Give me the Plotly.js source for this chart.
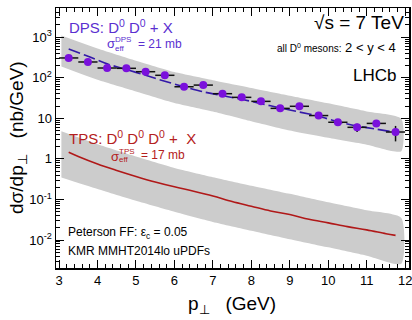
<!DOCTYPE html>
<html>
<head>
<meta charset="utf-8">
<script src="https://cdn.plot.ly/plotly-3.0.1.min.js"></script>
<style>html,body{margin:0;padding:0;background:#fff}#chart{width:412px;height:320px}</style>
</head>
<body>
<div id="chart"></div>
<script>
// ---- data ----
var ptBins = [3.25,3.75,4.25,4.75,5.25,5.75,6.25,6.75,7.25,7.75,8.25,8.75,9.25,9.75,10.25,10.75,11.25,11.75];
var lhcbValues = [308,245,174,171,141,115,60,66,40.5,32.9,26.2,17.6,19.8,11.7,8.0,6.0,7.5,4.6];
var lhcbErrors = [15,12,9,9,7,6,3,3.5,2.2,2,1.6,1.3,1.6,1.6,1.4,1.4,1.3,1.9];
var binHalfWidth = [0.25,0.25,0.25,0.25,0.25,0.25,0.25,0.25,0.25,0.25,0.25,0.25,0.25,0.25,0.25,0.25,0.25,0.25];

var dpsCentral = [510,340,220,160,115,82,60,45,36,29.5,23,18,14.3,11.3,8.2,6.5,5.4,4.5];
var tpsCentral = [1.46,1.15,0.75,0.52,0.37,0.27,0.205,0.16,0.122,0.089,0.068,0.052,0.0425,0.0324,0.0265,0.0214,0.0178,0.0143,0.013];
var tpsX = [3.25,3.5,4.0,4.5,5.0,5.5,6.0,6.5,7.0,7.5,8.0,8.5,9.0,9.5,10.0,10.5,11.0,11.5,11.75];

var bandX = [3.06,4,5,6,7,8,9,10,11,11.9];
var dpsUpper = [1100,525,263,138,87,56,36,23.4,14.8,9.8];
var dpsLower = [190,89,46,24,14.8,8.5,5.0,3.3,2.24,1.55];
var tpsUpper = [4.8,2.3,1.15,0.60,0.355,0.219,0.138,0.085,0.054,0.035];
var tpsLower = [0.35,0.182,0.093,0.050,0.028,0.017,0.0105,0.0066,0.0041,0.0026];

var yTickVals = [0.01,0.1,1,10,100,1000];
var yTickText = ['10<sup>-2</sup>','10<sup>-1</sup>','1','10','10<sup>2</sup>','10<sup>3</sup>'];

// ---- helpers ----
function band(x, up, lo, name){
  return {x: x.concat(x.slice().reverse()), y: up.concat(lo.slice().reverse()),
    type:'scatter', mode:'lines', fill:'toself', fillcolor:'#cccccc',
    line:{width:0,color:'#cccccc', shape:'spline', smoothing:0.6}, hoverinfo:'skip', name:name};
}
var minorY = [];
for (var e=-3; e<=3; e++){ for (var d=2; d<=9; d++){ minorY.push(d*Math.pow(10,e)); } }

var L=56, R=409, T=8, B=268;
function px(x){ return (x-L)/(R-L); }
function py(y){ return (B-y)/(B-T); }
var FONT = 'Liberation Sans, Arial, sans-serif';
function ann(text, x, y, size, color, xanchor, extra){
  var a = {text:text, xref:'paper', yref:'paper', x:px(x), y:py(y), showarrow:false,
    xanchor:xanchor||'left', yanchor:'middle', font:{family:FONT, size:size, color:color||'#000'}};
  if (extra){ for (var k in extra) a[k]=extra[k]; }
  return a;
}

var DPS_TXT = '#5a2fd0', TPS_TXT = '#b42020';

var traces = [
  band(bandX, dpsUpper, dpsLower, 'DPS band'),
  band(bandX, tpsUpper, tpsLower, 'TPS band'),
  {x: ptBins, y: dpsCentral, type:'scatter', mode:'lines', line:{color:'#3318a8', width:1.6, dash:'12px,4px', shape:'spline', smoothing:0.8}, name:'DPS'},
  {x: tpsX, y: tpsCentral, type:'scatter', mode:'lines', line:{color:'#b01818', width:1.6, shape:'spline', smoothing:1}, name:'TPS'},
  {x: ptBins, y: lhcbValues, type:'scatter', mode:'markers',
    marker:{color:'#7a10dc', size:8},
    error_x:{type:'data', array: binHalfWidth, color:'#111', thickness:1.5, width:0},
    error_y:{type:'data', array: lhcbErrors, color:'#111', thickness:1.5, width:0},
    name:'LHCb'}
];

var NB = '\u00A0';
var layout = {
  width:412, height:320,
  margin:{l:L, r:412-R, t:T, b:320-B},
  paper_bgcolor:'#fff', plot_bgcolor:'#fff',
  showlegend:false,
  xaxis:{range:[2.92,12.1], tickmode:'linear', tick0:3, dtick:1,
    ticks:'inside', ticklen:8, tickwidth:1, tickcolor:'#000',
    showline:true, linewidth:1.5, linecolor:'#000', mirror:'allticks',
    showgrid:false, zeroline:false, ticklabeloverflow:'allow',
    minor:{dtick:0.2, tick0:3, ticks:'inside', ticklen:4, tickwidth:1, tickcolor:'#000', showgrid:false},
    tickfont:{family:FONT, size:13, color:'#000'}},
  yaxis:{type:'log', range:[-2.69,3.72], tickmode:'array', tickvals:yTickVals, ticktext:yTickText,
    ticks:'inside', ticklen:8, tickwidth:1, tickcolor:'#000',
    showline:true, linewidth:1.5, linecolor:'#000', mirror:'allticks',
    showgrid:false, zeroline:false,
    minor:{tickmode:'array', tickvals:minorY, ticks:'inside', ticklen:4, tickwidth:1, tickcolor:'#000', showgrid:false},
    tickfont:{family:FONT, size:13, color:'#000'}},
  annotations:[
    ann('d\u03C3/dp<sub>\u22A5</sub>'+NB+NB+NB+'(nb/GeV)', 18, 138, 19, '#000', 'center', {textangle:-90}),
    ann('p<sub>\u22A5</sub>'+NB+NB+NB+'(GeV)', 232, 305, 19, '#000', 'center'),
    ann('DPS: D<sup>0</sup> D<sup>0</sup> + X', 67, 27, 15, DPS_TXT),
    ann('\u03C3', 105, 44, 13, DPS_TXT),
    ann('DPS', 113, 39, 8, DPS_TXT),
    ann('eff', 113, 48, 8, DPS_TXT),
    ann('= 21 mb', 136, 44, 12, DPS_TXT),
    ann('\u221As = 7 TeV', 406, 22, 19, '#000', 'right'),
    ann('<span style="font-size:10px">all D<sup>0</sup> mesons:</span> 2 &lt; y &lt; 4', 398, 47, 13, '#000', 'right'),
    ann('LHCb', 398, 75, 17, '#000', 'right'),
    ann('TPS: D<sup>0</sup> D<sup>0</sup> D<sup>0</sup> +'+NB+' X', 67, 137, 15, TPS_TXT),
    ann('\u03C3', 109, 156, 13, TPS_TXT),
    ann('TPS', 117, 151, 8, TPS_TXT),
    ann('eff', 117, 160, 8, TPS_TXT),
    ann('= 17 mb', 139, 155, 12, TPS_TXT),
    ann('Peterson FF: \u03B5<sub>c</sub> = 0.05', 66, 233, 12, '#000'),
    ann('KMR MMHT2014lo uPDFs', 66, 251, 12, '#000')
  ]
};
Plotly.newPlot('chart', traces, layout, {staticPlot:true, displayModeBar:false});
</script>
</body>
</html>
